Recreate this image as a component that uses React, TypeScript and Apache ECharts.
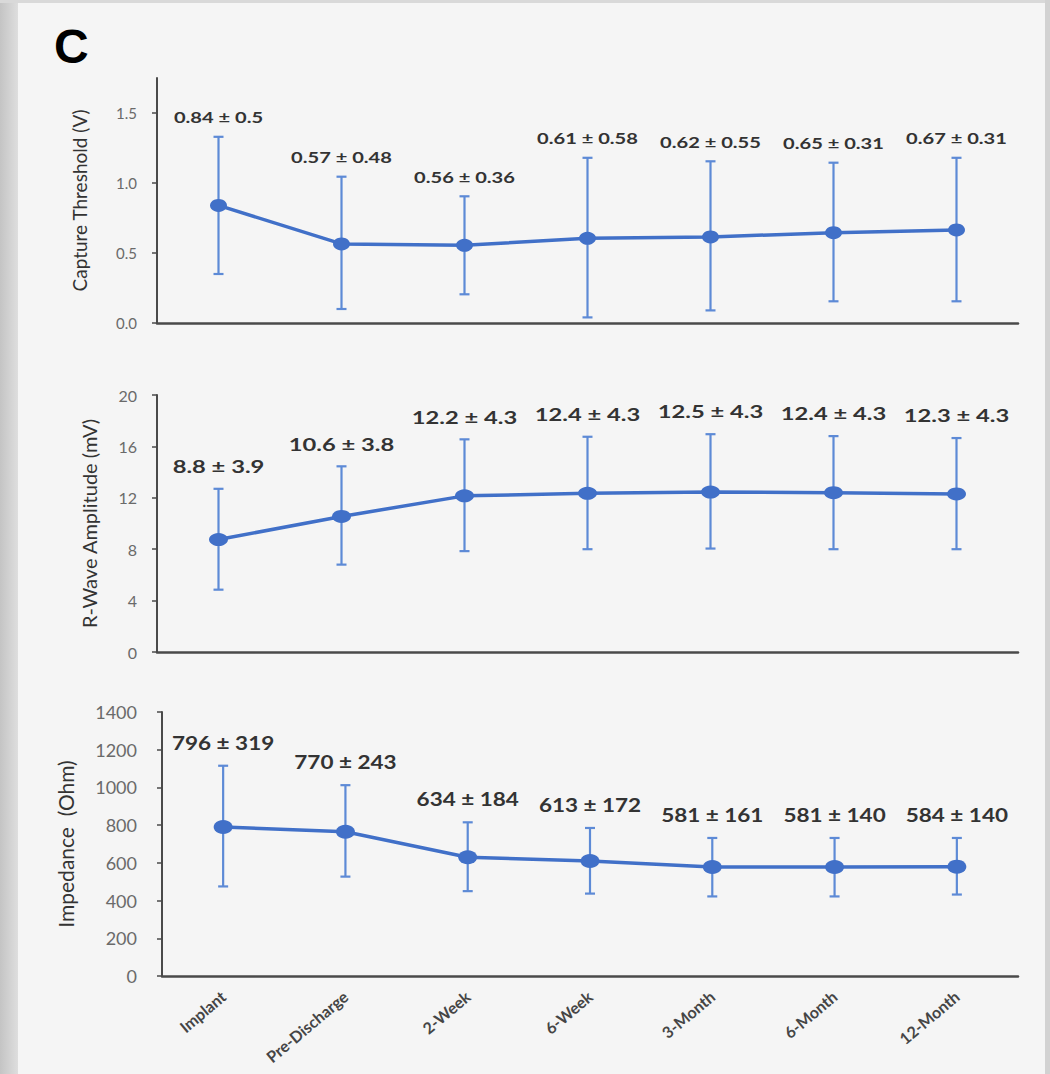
import React, { useEffect, useRef } from "react";
import * as echarts from "echarts";

const categories = ["Implant", "Pre-Discharge", "2-Week", "6-Week", "3-Month", "6-Month", "12-Month"];

// Panel 1: Capture Threshold (V)
const ctMean = [0.84, 0.565, 0.555, 0.605, 0.615, 0.645, 0.665];
const ctLow = [0.35, 0.1, 0.205, 0.04, 0.09, 0.155, 0.155];
const ctHigh = [1.33, 1.045, 0.905, 1.18, 1.155, 1.145, 1.18];
const ctLabels = ["0.84 ± 0.5", "0.57 ± 0.48", "0.56 ± 0.36", "0.61 ± 0.58", "0.62 ± 0.55", "0.65 ± 0.31", "0.67 ± 0.31"];
const ctTicks = [0, 0.5, 1, 1.5];

// Panel 2: R-Wave Amplitude (mV)
const rwMean = [8.75, 10.55, 12.15, 12.35, 12.45, 12.4, 12.3];
const rwLow = [4.85, 6.8, 7.85, 8.0, 8.05, 8.0, 8.0];
const rwHigh = [12.7, 14.45, 16.55, 16.75, 16.95, 16.8, 16.65];
const rwLabels = ["8.8 ± 3.9", "10.6 ± 3.8", "12.2 ± 4.3", "12.4 ± 4.3", "12.5 ± 4.3", "12.4 ± 4.3", "12.3 ± 4.3"];

// Panel 3: Impedance (Ohm)
const impMean = [790, 765, 630, 610, 578, 578, 580];
const impLow = [475, 527, 450, 437, 422, 422, 432];
const impHigh = [1115, 1012, 815, 785, 732, 732, 732];
const impLabels = ["796 ± 319", "770 ± 243", "634 ± 184", "613 ± 172", "581 ± 161", "581 ± 140", "584 ± 140"];

const LINE_BLUE = "#4170c8";
const ERR_BLUE = "#5d8ad6";
const AXIS_DARK = "#4a4a4a";

function errSeries(idx: number, low: number[], high: number[], labels: string[], fontSize: number, offset: number, sx: number) {
  return {
    type: "custom",
    xAxisIndex: idx,
    yAxisIndex: idx,
    z: 1,
    data: low.map((l, i) => [i, l, high[i]]),
    renderItem: (params: any, api: any) => {
      const i = api.value(0);
      const lo = api.coord([i, api.value(1)]);
      const hi = api.coord([i, api.value(2)]);
      const cap = 5;
      const st = { stroke: ERR_BLUE, lineWidth: 2.2 };
      return {
        type: "group",
        children: [
          { type: "line", shape: { x1: lo[0], y1: lo[1], x2: hi[0], y2: hi[1] }, style: st },
          { type: "line", shape: { x1: lo[0] - cap, y1: lo[1], x2: lo[0] + cap, y2: lo[1] }, style: st },
          { type: "line", shape: { x1: hi[0] - cap, y1: hi[1], x2: hi[0] + cap, y2: hi[1] }, style: st },
          {
            type: "text",
            x: hi[0],
            y: hi[1] - offset,
            scaleX: sx,
            style: {
              text: labels[params.dataIndex],
              fill: "#333333",
              fontFamily: "Lato",
              fontWeight: "bold",
              fontSize,
              align: "center",
              verticalAlign: "middle",
            },
          },
        ],
      };
    },
  };
}

function lineSeries(idx: number, data: number[], size: number[]) {
  return {
    type: "line",
    xAxisIndex: idx,
    yAxisIndex: idx,
    z: 3,
    data,
    symbol: "circle",
    symbolSize: size,
    lineStyle: { color: LINE_BLUE, width: 3.5 },
    itemStyle: { color: LINE_BLUE },
  };
}

function yAxis(idx: number, max: number, interval: number, name: string, nameSize: number, nameGap: number, labelSize: number, margin: number, custom?: number[]) {
  return {
    type: "value",
    gridIndex: idx,
    min: 0,
    max,
    interval,
    name,
    nameLocation: "middle",
    nameGap,
    nameTextStyle: { color: "#333333", fontFamily: "Lato", fontSize: nameSize },
    axisLine: { show: true, lineStyle: { color: AXIS_DARK, width: 2 } },
    axisTick: { show: true, length: 5, lineStyle: { color: AXIS_DARK, width: 1.5 }, ...(custom ? { customValues: custom } : {}) },
    axisLabel: {
      color: "#6a6a6a",
      fontFamily: "Lato",
      fontSize: labelSize,
      margin,
      ...(custom
        ? { customValues: custom, formatter: (v: number) => v.toFixed(1) }
        : { formatter: (v: number) => String(v) }),
    },
    splitLine: { show: false },
  };
}

function xAxis(idx: number, showLabels: boolean) {
  return {
    type: "category",
    gridIndex: idx,
    data: categories,
    boundaryGap: true,
    axisLine: { show: true, lineStyle: { color: AXIS_DARK, width: 2.5 } },
    axisTick: { show: false },
    axisLabel: showLabels
      ? { show: true, rotate: 40, color: "#454545", fontFamily: "Lato", fontWeight: "bold", fontSize: 16, margin: 18, interval: 0 }
      : { show: false },
    splitLine: { show: false },
  };
}

export default function App() {
  const ref = useRef<HTMLDivElement>(null);
  useEffect(() => {
    if (!ref.current) return;
    const chart = echarts.init(ref.current, undefined, { renderer: "svg" });
    chart.setOption({
      animation: false,
      backgroundColor: "#f5f5f5",
      graphic: [
        {
          type: "rect",
          left: 0,
          top: 0,
          shape: { width: 18, height: 1074 },
          style: {
            fill: new echarts.graphic.LinearGradient(0, 0, 1, 0, [
              { offset: 0, color: "#c4c4c4" },
              { offset: 1, color: "#dedede" },
            ]),
          },
          z: 0,
        },
        { type: "rect", left: 0, top: 0, shape: { width: 1050, height: 3 }, style: { fill: "#d9d9d9" }, z: 0 },
        { type: "rect", left: 1045, top: 0, shape: { width: 5, height: 1074 }, style: { fill: "#d2d2d2" }, z: 0 },
        {
          type: "text",
          left: 54,
          top: 22,
          style: { text: "C", fill: "#000000", fontFamily: "Liberation Sans", fontWeight: "bold", fontSize: 48 },
          z: 10,
        },
      ],
      grid: [
        { left: 157, right: 32, top: 78, height: 245, outerBoundsMode: "none", containLabel: false },
        { left: 157, right: 32, top: 395, height: 257, outerBoundsMode: "none", containLabel: false },
        { left: 162, right: 32, top: 712, height: 264, outerBoundsMode: "none", containLabel: false },
      ],
      xAxis: [xAxis(0, false), xAxis(1, false), xAxis(2, true)],
      yAxis: [
        yAxis(0, 1.75, 0.5, "Capture Threshold (V)", 19, 68, 15, 20, ctTicks),
        yAxis(1, 20, 4, "R-Wave Amplitude (mV)", 20, 58, 16, 20),
        yAxis(2, 1400, 200, "Impedance  (Ohm)", 21, 86, 18, 25),
      ],
      series: [
        errSeries(0, ctLow, ctHigh, ctLabels, 15, 19, 1.34),
        lineSeries(0, ctMean, [17, 13]),
        errSeries(1, rwLow, rwHigh, rwLabels, 18, 23, 1.32),
        lineSeries(1, rwMean, [19, 13]),
        errSeries(2, impLow, impHigh, impLabels, 18, 23, 1.25),
        lineSeries(2, impMean, [19, 14]),
      ],
    });
    return () => chart.dispose();
  }, []);
  return <div ref={ref} style={{ width: 1050, height: 1074, position: "absolute", left: 0, top: 0 }} />;
}
